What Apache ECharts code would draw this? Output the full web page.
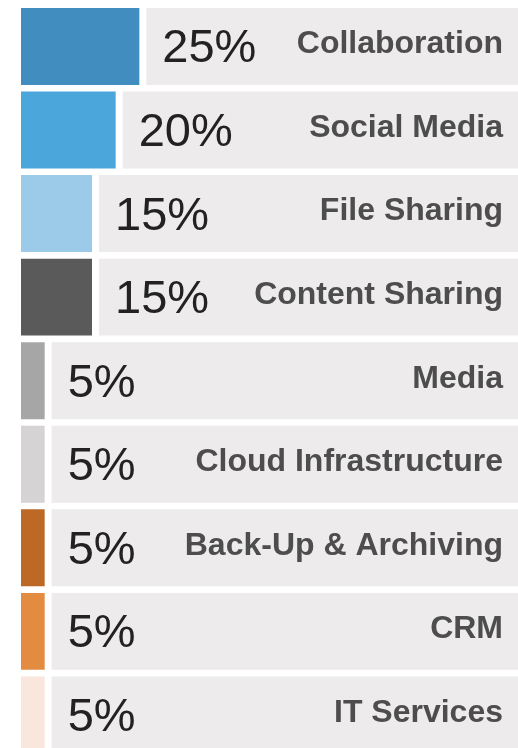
<!DOCTYPE html>
<html>
<head>
<meta charset="utf-8">
<script src="https://cdn.jsdelivr.net/npm/echarts@6/dist/echarts.min.js"></script>
<style>
    html, body { margin: 0; padding: 0; background: #fff; overflow: hidden; }
    #chart { width: 518px; height: 762px; }
</style>
</head>
<body>
<div id="chart"></div>
<script>
(function () {

    var categories = ['Collaboration', 'Social Media', 'File Sharing', 'Content Sharing', 'Media',
        'Cloud Infrastructure', 'Back-Up & Archiving', 'CRM', 'IT Services'];
    var values = [25, 20, 15, 15, 5, 5, 5, 5, 5];

    var colors = ['#428dc0', '#4aa6db', '#9ccbea', '#5a5a5a', '#a6a6a6',
        '#d5d3d4', '#bc6827', '#e38b40', '#f9e6dc'];

    var font = '"Liberation Sans", Arial, sans-serif';

    function renderItem(params, api) {
        var i = api.value(1);
        var v = api.value(0);
        var start = api.coord([0, i]);
        var end = api.coord([v, i]);
        var band = api.size([0, 1])[1];
        var h = band * 0.921;
        var top = start[1] - h / 2;
        var right = params.coordSys.x + params.coordSys.width;
        var gx = end[0] + 7;

        return {
            type: 'group',
            children: [
                {
                    type: 'rect',
                    shape: { x: start[0], y: top, width: end[0] - start[0], height: h },
                    style: { fill: colors[i] }
                },
                {
                    type: 'rect',
                    shape: { x: gx, y: top, width: right - gx, height: h },
                    style: { fill: '#edebec' }
                },
                {
                    type: 'text',
                    x: gx + 16,
                    y: start[1] + 3,
                    style: {
                        text: v + '%',
                        fontSize: 47,
                        fontFamily: font,
                        fill: '#222',
                        align: 'left',
                        verticalAlign: 'middle'
                    }
                },
                {
                    type: 'text',
                    x: right - 15,
                    y: start[1] - 2,
                    style: {
                        text: categories[i],
                        fontSize: 32,
                        fontWeight: 'bold',
                        fontFamily: font,
                        fill: '#4d4d4d',
                        align: 'right',
                        verticalAlign: 'middle'
                    }
                }
            ]
        };
    }

    var option = {
        animation: false,
        grid: { left: 21, right: 0, top: 4.7, height: 752 },
        xAxis: { type: 'value', min: 0, max: 105, show: false },
        yAxis: { type: 'category', data: categories, inverse: true, show: false },
        series: [{
            type: 'custom',
            renderItem: renderItem,
            encode: { x: 0, y: 1 },
            data: values.map(function (v, i) { return [v, i]; })
        }]
    };

    var myChart = echarts.init(document.getElementById('chart'));
    myChart.setOption(option);

})();
</script>
</body>
</html>
